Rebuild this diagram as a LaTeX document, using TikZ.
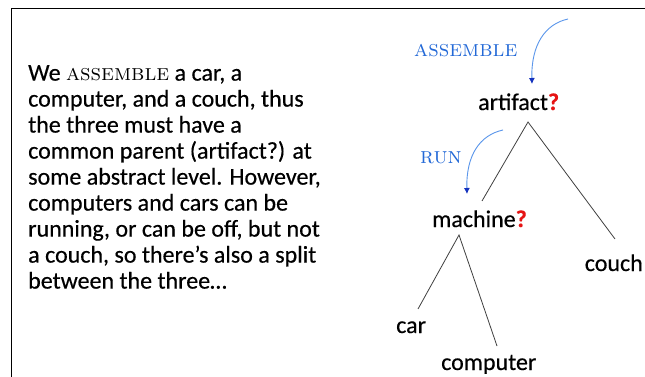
\documentclass[tikz,border=0pt]{standalone}
\usepackage{fontspec}
\setmainfont{Carlito}[FakeBold=0.4]
\newcommand{\lmsc}{\fontfamily{lmr}\selectfont\scshape}
\usetikzlibrary{arrows.meta}
\definecolor{lblue}{RGB}{35,105,215}
\definecolor{cblue}{RGB}{90,150,235}
\definecolor{tblue}{RGB}{20,50,190}
\definecolor{qred}{RGB}{230,20,20}
\newcommand{\qm}{\textbf{\textcolor{qred}{?}}}
\begin{document}
\begin{tikzpicture}[x=1pt,y=-1pt,
  word/.style={anchor=base west,inner sep=0pt,font=\fontsize{24}{26}\selectfont},
  lbl/.style={anchor=base west,inner sep=0pt,text=lblue,font=\fontsize{23}{26}\selectfont\lmsc},
  treeline/.style={draw=black!75,line width=0.8pt},
  curvearrow/.style={draw=cblue,line width=0.9pt,-{Latex[length=6pt,width=6pt,color=tblue]}}]
\useasboundingbox (0,0) rectangle (645,377);
\fill[white] (0,0) rectangle (645,377);
\coordinate (fa) at (11,377);
\coordinate (fb) at (11,9);
\coordinate (fc) at (645,9);
\draw[line width=1pt] (fa) -- (fb) -- (fc);
\node[word,align=left,anchor=north west] (txt) at (28,65)
  {We {\fontsize{23}{26}\lmsc assemble} a car, a\\
   computer, and a couch, thus\\
   the three must have a\\
   common parent (artifact?) at\\
   some abstract level. However,\\
   computers and cars can be\\
   running, or can be off, but not\\
   a couch, so there’s also a split\\
   between the three…};
\node[lbl] (la) at (414,57) {assemble};
\node[lbl] (lr) at (420,163) {run};
\node[word] (art) at (478,110) {artifact\qm};
\node[word] (mach) at (432,227) {machine\qm};
\node[word,anchor=base east] (couch) at (643,271) {couch};
\node[word] (car) at (396,333) {car};
\node[word] (comp) at (441,370) {computer};
\coordinate (a1) at (528,122);
\coordinate (a2) at (482,201);
\coordinate (a3) at (615,239);
\coordinate (m1) at (459,235);
\coordinate (m2) at (418,309);
\coordinate (m3) at (497,346);
\draw[treeline] (a2) -- (a1) -- (a3);
\draw[treeline] (m2) -- (m1) -- (m3);
\coordinate (s1) at (568,19);
\coordinate (e1) at (532,84);
\coordinate (s2) at (503,130);
\coordinate (e2) at (467,194);
\draw[curvearrow] (s1) .. controls (545,24) and (531,45) .. (e1);
\draw[curvearrow] (s2) .. controls (480,135) and (466,155) .. (e2);
\end{tikzpicture}
\end{document}
